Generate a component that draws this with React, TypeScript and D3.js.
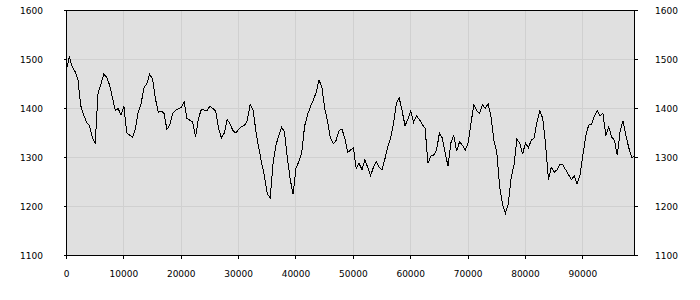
import React from "react";
import * as d3 from "d3";

const STEP = 500;
const values: number[] = [
  1480, 1505, 1485, 1475, 1458, 1405, 1387, 1372, 1365, 1342,
  1328, 1432, 1450, 1470, 1464, 1448, 1423, 1396, 1400, 1386,
  1405, 1350, 1346, 1341, 1358, 1393, 1410, 1442, 1451, 1470,
  1460, 1420, 1392, 1395, 1390, 1357, 1367, 1390, 1396, 1399,
  1402, 1413, 1380, 1376, 1372, 1342, 1380, 1398, 1397, 1396,
  1405, 1400, 1395, 1360, 1340, 1350, 1377, 1369, 1355, 1350,
  1357, 1363, 1365, 1375, 1408, 1398, 1355, 1320, 1290, 1262,
  1225, 1218, 1288, 1325, 1345, 1362, 1352, 1298, 1255, 1225,
  1278, 1292, 1310, 1364, 1387, 1403, 1417, 1432, 1458, 1445,
  1400, 1374, 1340, 1328, 1335, 1355, 1358, 1340, 1310, 1315,
  1320, 1278, 1288, 1275, 1295, 1280, 1263, 1280, 1292, 1280,
  1275, 1297, 1322, 1340, 1370, 1411, 1421, 1395, 1365, 1378,
  1396, 1372, 1385, 1378, 1367, 1360, 1288, 1303, 1305, 1315,
  1350, 1340, 1310, 1282, 1330, 1345, 1313, 1332, 1325, 1315,
  1330, 1370, 1408, 1395, 1390, 1408, 1400, 1410, 1382, 1335,
  1310, 1240, 1205, 1186, 1205, 1258, 1285, 1337, 1330, 1307,
  1330, 1320, 1335, 1340, 1372, 1395, 1380, 1327, 1255, 1280,
  1270, 1275, 1287, 1285, 1275, 1265, 1255, 1262, 1246, 1265,
  1305, 1343, 1366, 1368, 1384, 1395, 1385, 1390, 1345, 1363,
  1342, 1335, 1305, 1354, 1375, 1345, 1320, 1300, 1302,
];

const xTicks: number[] = [0, 10000, 20000, 30000, 40000, 50000, 60000, 70000, 80000, 90000];
const yTicks: number[] = [1100, 1200, 1300, 1400, 1500, 1600];
const xDomain: [number, number] = [0, 99000];
const yDomain: [number, number] = [1100, 1600];

export default function App() {
  const W = 700, H = 300;
  const left = 66.5, right = 634.5, top = 10.5, bottom = 255.5;
  const x = d3.scaleLinear().domain(xDomain).range([left, right]);
  const y = d3.scaleLinear().domain(yDomain).range([bottom, top]);
  const snap = (v: number) => Math.floor(v) + 0.5;
  const line = d3
    .line<number>()
    .x((_, i) => x(i * STEP))
    .y((d) => y(d));
  const font = "'DejaVu Sans', Verdana, sans-serif";
  return (
    <svg
      width={W}
      height={H}
      style={{ position: "absolute", left: 0, top: 0, background: "#fff" }}
    >
      <rect x={left} y={top} width={right - left} height={bottom - top} fill="#e0e0e0" />
      <g stroke="#d0d0d0" strokeWidth={1} shapeRendering="crispEdges">
        {xTicks.filter((t) => t > xDomain[0]).map((t) => (
          <line key={"gx" + t} x1={snap(x(t))} x2={snap(x(t))} y1={top} y2={bottom} />
        ))}
        {yTicks.filter((t) => t > yDomain[0] && t < yDomain[1]).map((t) => (
          <line key={"gy" + t} x1={left} x2={right} y1={snap(y(t))} y2={snap(y(t))} />
        ))}
      </g>
      <path
        d={line(values) || ""}
        fill="none"
        stroke="#000"
        strokeWidth={1}
        shapeRendering="crispEdges"
      />
      <g stroke="#000" strokeWidth={1} shapeRendering="crispEdges">
        <rect x={left} y={top} width={right - left} height={bottom - top} fill="none" />
        {yTicks.map((t) => (
          <React.Fragment key={"ty" + t}>
            <line x1={left - 3} x2={left} y1={snap(y(t))} y2={snap(y(t))} />
            <line x1={right} x2={right + 3} y1={snap(y(t))} y2={snap(y(t))} />
          </React.Fragment>
        ))}
        {xTicks.map((t) => (
          <line key={"tx" + t} x1={snap(x(t))} x2={snap(x(t))} y1={bottom} y2={bottom + 3} />
        ))}
      </g>
      <g fontFamily={font} fontSize={9} fill="#000">
        {yTicks.map((t) => (
          <React.Fragment key={"ly" + t}>
            <text x={43} y={y(t) + 3.5} textAnchor="end">{t}</text>
            <text x={655} y={y(t) + 3.5} textAnchor="start">{t}</text>
          </React.Fragment>
        ))}
        {xTicks.map((t) => (
          <text key={"lx" + t} x={x(t)} y={277} textAnchor="middle">{t}</text>
        ))}
      </g>
    </svg>
  );
}
